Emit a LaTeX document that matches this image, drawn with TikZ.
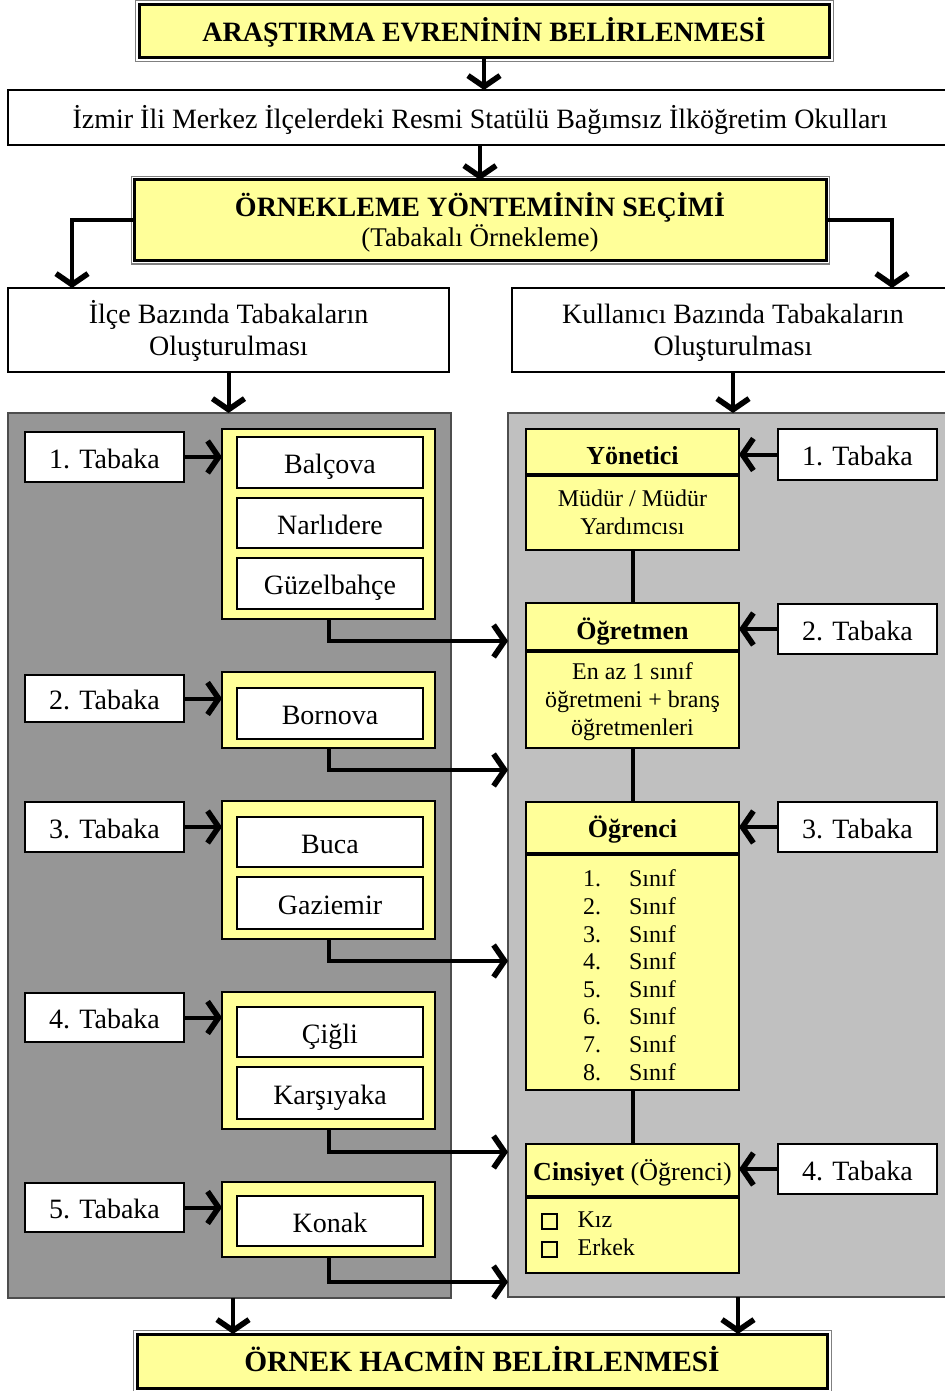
\documentclass[tikz,border=0pt]{standalone}
\usepackage{fontspec}
\setmainfont{Liberation Serif}
\usetikzlibrary{arrows.meta,calc}
\definecolor{yel}{HTML}{FFFF99}
\definecolor{lpg}{HTML}{969696}
\definecolor{rpg}{HTML}{C0C0C0}
\definecolor{pbd}{HTML}{4D4D4D}
\newcommand\BX[7]{\node[#1, minimum width={((#4)-(#2))*0.5pt}, minimum height={((#5)-(#3))*0.5pt}] (#6) at ({((#2)+(#4))/2},{((#3)+(#5))/2}) {#7};}
\newcommand\cbx{{\fboxsep=0pt\fboxrule=0.9pt\fbox{\rule{0pt}{6.5pt}\rule{6.5pt}{0pt}}}}
\newcommand\snf[1]{\makebox[23pt][l]{#1.}Sınıf}
% lower a block of centred lines by #1 without changing its extent
\newcommand\dn[2]{\raisebox{-#1}[\height][\depth]{\begin{tabular}{@{}c@{}}#2\end{tabular}}}
\begin{document}
\begin{tikzpicture}[x=0.5pt,y=-0.5pt,
 base/.style={inner sep=0pt, outer sep=0pt, align=center},
 one/.style={text height=11pt, text depth=0pt},
 wbox/.style={base, draw, fill=white, line width=1.2pt, font=\fontsize{14}{16}\selectfont},
 tab/.style={base, one, draw, fill=white, line width=1pt, font=\fontsize{14}{16}\selectfont},
 grp/.style={base, draw, fill=yel, line width=1pt},
 ban/.style={base, draw, fill=yel, line width=1.5pt, font=\bfseries\fontsize{14}{16}\selectfont},
 yh/.style={base, draw, fill=yel, line width=1pt, text height=12pt, text depth=0pt, font=\bfseries\fontsize{13}{15}\selectfont},
 yb/.style={base, draw, fill=yel, line width=1pt, font=\fontsize{12}{14}\selectfont},
 lpanel/.style={base, draw=pbd, fill=lpg, line width=1pt},
 rpanel/.style={base, draw=pbd, fill=rpg, line width=1pt},
 outerln/.style={draw=gray, line width=0.5pt},
 arr/.style={line width=2pt, -{Straight Barb[length=5.5pt,width=16pt,line width=2.8pt]}},
 conn/.style={line width=2pt},
 sep/.style={line width=2pt},
]
\useasboundingbox (0,0) rectangle (945,1391);

% ---- top banner
\draw[outerln] (135,1) rectangle (833,62);
\BX{ban,text height=10.5pt,text depth=0pt}{139}{5}{829}{58}{t1}{ARAŞTIRMA EVRENİNİN BELİRLENMESİ}
\BX{wbox,one}{8}{90}{952}{145}{t2}{İzmir İli Merkez İlçelerdeki Resmi Statülü Bağımsız İlköğretim Okulları}
\draw[outerln] (131,177) rectangle (829,264);
\BX{ban}{134}{180}{826}{261}{t3}{\dn{2pt}{ÖRNEKLEME YÖNTEMİNİN SEÇİMİ\\[-1pt]\mdseries\fontsize{13.5}{15}\selectfont (Tabakalı Örnekleme)}}
\BX{wbox}{8}{288}{449}{372}{t4}{\dn{1.5pt}{İlçe Bazında Tabakaların\\Oluşturulması}}
\BX{wbox}{512}{288}{954}{372}{t5}{\dn{1.5pt}{Kullanıcı Bazında Tabakaların\\Oluşturulması}}
\coordinate (c4) at (72,288);
\coordinate (c5) at (892,288);
\draw[arr] (t1.south) -- (t2.north -| t1.south);
\draw[arr] (t2.south -| t3.north) -- (t3.north);
\draw[arr] (t3.west) -| (c4);
\draw[arr] (t3.east) -| (c5);

% ---- panels
\BX{lpanel}{8}{413}{451}{1298}{LP}{}
\BX{rpanel}{508}{413}{960}{1297}{RP}{}
\draw[arr] (t4.south) -- (t4.south |- LP.north);
\draw[arr] (t5.south) -- (t5.south |- RP.north);

% ---- left groups
\BX{grp}{222}{429}{435}{619}{G1}{}
\BX{wbox,one}{237}{437}{423}{488}{b11}{Balçova}
\BX{wbox,one}{237}{498}{423}{548}{b12}{Narlıdere}
\BX{wbox,one}{237}{558}{423}{609}{b13}{Güzelbahçe}
\BX{grp}{222}{672}{435}{748}{G2}{}
\BX{wbox,one}{237}{688}{423}{739}{b21}{Bornova}
\BX{grp}{222}{801}{435}{939}{G3}{}
\BX{wbox,one}{237}{817}{423}{867}{b31}{Buca}
\BX{wbox,one}{237}{877}{423}{929}{b32}{Gaziemir}
\BX{grp}{222}{992}{435}{1129}{G4}{}
\BX{wbox,one}{237}{1007}{423}{1057}{b41}{Çiğli}
\BX{wbox,one}{237}{1067}{423}{1119}{b42}{Karşıyaka}
\BX{grp}{222}{1182}{435}{1257}{G5}{}
\BX{wbox,one}{237}{1196}{423}{1246}{b51}{Konak}

\BX{tab}{25}{432}{184}{482}{L1}{1. Tabaka}
\BX{tab}{25}{675}{184}{722}{L2}{2. Tabaka}
\BX{tab}{25}{802}{184}{852}{L3}{3. Tabaka}
\BX{tab}{25}{993}{184}{1042}{L4}{4. Tabaka}
\BX{tab}{25}{1183}{184}{1232}{L5}{5. Tabaka}
\foreach \i in {1,...,5}{\draw[arr] (L\i.east) -- (L\i.east -| G\i.west);}

\coordinate (e1) at (508,641);
\coordinate (e2) at (508,770);
\coordinate (e3) at (508,961);
\coordinate (e4) at (508,1152);
\coordinate (e5) at (508,1282);
\foreach \i in {1,...,5}{\draw[arr] (G\i.south) |- (e\i);}

% ---- right column
\BX{yh}{526}{429}{739}{475}{Y1}{Yönetici}
\BX{yb}{526}{475}{739}{550}{Y1b}{\dn{1pt}{Müdür / Müdür\\Yardımcısı}}
\BX{yh}{526}{603}{739}{651}{Y2}{Öğretmen}
\BX{yb}{526}{651}{739}{748}{Y2b}{\dn{1pt}{En az 1 sınıf\\öğretmeni + branş\\öğretmenleri}}
\BX{yh,text height=9.5pt}{526}{802}{739}{854}{Y3}{Öğrenci}
\BX{yb}{526}{854}{739}{1090}{Y3b}{\fontsize{12}{13.8}\selectfont\raisebox{-3pt}[\height][\depth]{\begin{tabular}{@{}l@{\hspace{3pt}}}\snf{1}\\\snf{2}\\\snf{3}\\\snf{4}\\\snf{5}\\\snf{6}\\\snf{7}\\\snf{8}\end{tabular}}}
\BX{yh,text height=10pt}{526}{1144}{739}{1197}{Y4}{Cinsiyet \mdseries(Öğrenci)}
\BX{yb,align=left,inner xsep=7.5pt,text width=91.5pt}{526}{1197}{739}{1273}{Y4b}{\fontsize{12}{14.5}\selectfont\cbx\hspace{10pt}Kız\\\cbx\hspace{10pt}Erkek}
\foreach \i in {1,...,4}{\draw[sep] (Y\i.south west) -- (Y\i.south east);}
\draw[conn] (Y1b.south) -- (Y2.north);
\draw[conn] (Y2b.south) -- (Y3.north);
\draw[conn] (Y3b.south) -- (Y4.north);

\BX{tab}{778}{429}{937}{480}{R1}{1. Tabaka}
\BX{tab}{778}{604}{937}{654}{R2}{2. Tabaka}
\BX{tab}{778}{802}{937}{852}{R3}{3. Tabaka}
\BX{tab}{778}{1144}{937}{1194}{R4}{4. Tabaka}
\foreach \i in {1,...,4}{\draw[arr] (R\i.west) -- (R\i.west -| Y\i.east);}

% ---- bottom banner
\draw[outerln] (133,1330) rectangle (831,1393);
\BX{ban,text height=10.5pt,text depth=0pt,font=\bfseries\fontsize{14.7}{16}\selectfont}{137}{1334}{827}{1388}{t6}{ÖRNEK HACMİN BELİRLENMESİ}
\coordinate (s1) at (233,1298);
\coordinate (s2) at (738,1297);
\draw[arr] (s1) -- (s1 |- t6.north);
\draw[arr] (s2) -- (s2 |- t6.north);
\end{tikzpicture}
\end{document}
